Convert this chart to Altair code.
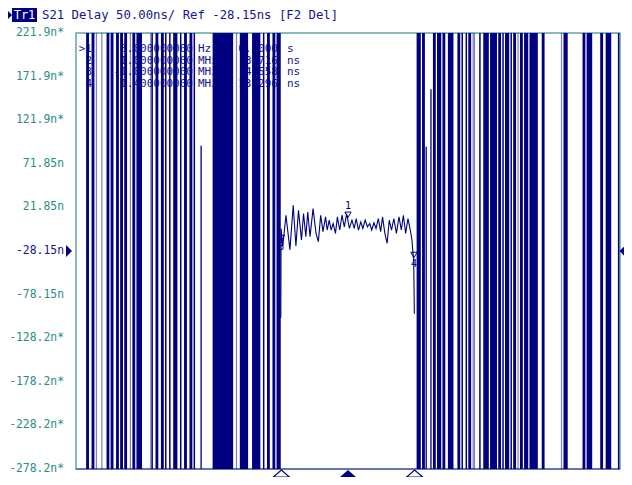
import altair as alt
import pandas as pd

NAVY = "#000080"
TXT = "#16168a"
TEAL = "#2b8c87"
GRID = "#8ad9d9"
FRAME = "#63a6a3"
FONT = "DejaVu Sans Mono"

Y_TOP = 221.85
Y_BOT = -278.15
N_LAST = 400
W, H = 544, 436

# ---- axis ticks ----
ytick_ns = [221.85, 171.85, 121.85, 71.85, 21.85, -28.15, -78.15, -128.15, -178.15, -228.15, -278.15]
ytick_label = ["221.9n*", "171.9n*", "121.9n*", "71.85n\u00a0", "21.85n\u00a0", "-28.15n",
               "-78.15n\u00a0", "-128.2n*", "-178.2n*", "-228.2n*", "-278.2n*"]
ref_ns = -28.15
xgrid_idx = [0, 40, 80, 120, 160, 200, 240, 280, 320, 360, 400]

# ---- wrapped (out-of-band) delay: runs of full-height strokes, by point index ----
wrap_start = [8, 12, 23, 26, 30, 33, 36, 42, 45, 56, 59, 63, 66, 69, 72, 77, 80, 84, 87, 101,
              121, 130, 138, 141, 145, 148,
              251, 255, 263, 266, 270, 274, 281, 284, 287, 289, 297, 300, 305, 311, 314, 316,
              320, 322, 327, 330, 334, 343, 359, 373, 376, 386, 390, 399]
wrap_end = [9, 13, 24, 27, 31, 34, 37, 43, 48, 56, 60, 64, 66, 69, 74, 77, 81, 85, 87, 115,
            126, 135, 138, 142, 146, 150,
            253, 256, 264, 268, 271, 277, 282, 284, 287, 290, 297, 303, 309, 312, 314, 318,
            320, 323, 328, 332, 339, 344, 361, 374, 379, 387, 393, 399]
light_idx = [15, 19, 40, 55, 118, 292, 293, 325, 357]

# partial strokes
partial_idx = [92, 257.5, 261]
partial_top = [92.6, 91.5, 157.3]
partial_bot = [-278.15, -278.15, -278.15]

# ---- in-band group delay (ns) ----
band_idx = [150.6, 150.8, 152.0, 154.4, 157.3, 159.7, 161.7, 163.6, 165.8, 167.3,
            169.0, 170.4, 172.1, 174.3, 176.5, 178.2, 179.9, 181.6, 183.5, 184.7,
            186.2, 187.6, 189.1, 190.8, 192.2, 193.9, 195.6, 197.3, 199.0, 201.0,
            202.9, 204.6, 206.0, 207.7, 209.4, 210.9, 212.6, 214.3, 216.0, 217.4,
            219.1, 220.6, 222.3, 224.0, 225.4, 227.1, 228.8, 230.3, 232.0, 233.7,
            235.6, 237.5, 239.2, 240.7, 242.4, 244.1, 245.8, 247.0, 247.7, 248.3, 248.8]
band_ns = [-105, -2.3, -23.0, 12.9, -26.8, 24.2, -22.3, 18.5, -15.5, 14.8,
           -11.7, 16.6, -11.7, 20.4, -7.9, -17.4, 12.9, -6.0, 11.0, -4.1,
           7.2, -4.1, 3.4, -7.9, 11.0, -4.1, 12.9, -0.4, 14.8, -2.3,
           7.2, -2.3, 9.1, -4.1, 5.3, -2.3, 7.2, -0.4, 3.4, -4.1,
           4.2, -2.3, 9.1, -6.0, 11.0, -7.9, -19.3, 7.2, -4.1, 9.1,
           -7.9, 11.0, -4.1, 12.9, -7.9, 9.1, -4.1, -15.5, -28.7, -40, -100]

# ---- markers ----
act_name = ["1"]
act_idx = [200]
act_ns = [4.2]
inact_name = ["3", "4"]
inact_idx = [151, 248.5]
inact_ns = [-13.2, -32.7]
tri_open_idx = [151, 249]
tri_active_idx = [200]

mk_label = [">1", "2", "3", "4"]
mk_freq = ["0.000000000", "1.000000000", "-1.000000000", "1.400000000"]
mk_funit = ["Hz", "MHz", "MHz", "MHz"]
mk_val = ["0.0000", "3.716", "4.558", "13.296"]
mk_vunit = ["s", "ns", "ns", "ns"]

header_tr = "Tr1"
header_txt = "S21 Delay 50.00ns/ Ref -28.15ns [F2 Del]"

# ---------------------------------------------------------------
xs = alt.Scale(domain=[0, N_LAST], nice=False, zero=False)
ys = alt.Scale(domain=[Y_BOT, Y_TOP], nice=False, zero=False)


def X(f):
    return alt.X(f, scale=xs, axis=None)


def Y(f):
    return alt.Y(f, scale=ys, axis=None)


grid_df = pd.DataFrame({"idx": [0, N_LAST], "ns": [Y_BOT, Y_BOT]})
grid = alt.Chart(grid_df).mark_line(color="#5c5cab", strokeWidth=1.5).encode(
    x=alt.X("idx:Q", scale=xs, axis=alt.Axis(values=xgrid_idx, grid=True, gridColor=GRID, gridWidth=1.5,
                                             labels=False, ticks=False, domain=False, title=None)),
    y=alt.Y("ns:Q", scale=ys, axis=alt.Axis(values=ytick_ns, grid=True, gridColor=GRID, gridWidth=1.5,
                                            labels=False, ticks=False, domain=False, title=None)),
)

one = pd.DataFrame({"k": [0]})

table_layers = []
for col, xpos, al in [(mk_label, 16, "right"), (mk_freq, 117, "right"), (mk_funit, 122, "left"),
                      (mk_val, 202, "right"), (mk_vunit, 211, "left")]:
    table_layers.append(
        alt.Chart(pd.DataFrame({"t": ["\n".join(col)]})).mark_text(
            font=FONT, fontSize=11, color=TXT, align=al, baseline="top", lineBreak="\n", lineHeight=11.5
        ).encode(x=alt.value(xpos), y=alt.value(10), text="t:N")
    )

run_df = pd.DataFrame({"x0": [s - 0.55 for s in wrap_start], "x1": [e + 0.55 for e in wrap_end],
                       "top": [Y_TOP] * len(wrap_start), "bot": [Y_BOT] * len(wrap_start)})
runs = alt.Chart(run_df).mark_rect(color=NAVY).encode(
    x=X("x0:Q"), x2="x1:Q", y=Y("top:Q"), y2="bot:Q")

light_df = pd.DataFrame({"x0": [s - 0.45 for s in light_idx], "x1": [s + 0.45 for s in light_idx],
                         "top": [Y_TOP] * len(light_idx), "bot": [Y_BOT] * len(light_idx)})
lights = alt.Chart(light_df).mark_rect(color=NAVY, opacity=0.5).encode(
    x=X("x0:Q"), x2="x1:Q", y=Y("top:Q"), y2="bot:Q")

part_df = pd.DataFrame({"idx": partial_idx, "top": partial_top, "bot": partial_bot})
partials = alt.Chart(part_df).mark_rule(color=NAVY, strokeWidth=1.3).encode(
    x=X("idx:Q"), y=Y("top:Q"), y2="bot:Q")

band_df = pd.DataFrame({"idx": band_idx, "ns": band_ns})
band = alt.Chart(band_df).mark_line(color=NAVY, strokeWidth=1.1).encode(x=X("idx:Q"), y=Y("ns:Q"))

act_df = pd.DataFrame({"idx": act_idx, "ns": act_ns, "name": act_name})
act_tri = alt.Chart(act_df).mark_point(shape="triangle-down", filled=False, color=NAVY, size=40,
                                       strokeWidth=1, yOffset=-8, opacity=1).encode(x=X("idx:Q"), y=Y("ns:Q"))
act_txt = alt.Chart(act_df).mark_text(font=FONT, fontSize=10, color=NAVY, dy=-17).encode(
    x=X("idx:Q"), y=Y("ns:Q"), text="name:N")

inact_df = pd.DataFrame({"idx": inact_idx, "ns": inact_ns, "name": inact_name})
inact_tri = alt.Chart(inact_df).mark_point(shape="triangle-down", filled=False, color=NAVY, size=40,
                                           strokeWidth=1, opacity=1).encode(x=X("idx:Q"), y=Y("ns:Q"))
inact_txt = alt.Chart(inact_df).mark_text(font=FONT, fontSize=10, color=NAVY, dy=9).encode(
    x=X("idx:Q"), y=Y("ns:Q"), text="name:N")

ylab_df = pd.DataFrame({"ns": ytick_ns, "lab": ytick_label})
ylabels = alt.Chart(ylab_df).mark_text(font=FONT, fontSize=11.4, align="right", baseline="middle").encode(
    x=alt.value(-12), y=Y("ns:Q"), text="lab:N",
    color=alt.condition("datum.ns == -28.15", alt.value(TXT), alt.value(TEAL)))

ref_df = pd.DataFrame({"ns": [ref_ns]})
ref_left = alt.Chart(ref_df).mark_point(shape="M-0.5,-1L0.5,0L-0.5,1Z", filled=True, size=144,
                                        color=NAVY, opacity=1).encode(x=alt.value(-7), y=Y("ns:Q"))
ref_right = alt.Chart(ref_df).mark_point(shape="M0.5,-1L-0.5,0L0.5,1Z", filled=True, size=100,
                                         color=NAVY, opacity=1).encode(x=alt.value(W + 2), y=Y("ns:Q"))

TRI = "M-1,0.44L1,0.44L0,-0.44Z"
tri_open = alt.Chart(pd.DataFrame({"idx": tri_open_idx})).mark_point(
    shape=TRI, filled=True, fill="white", stroke=NAVY, strokeWidth=1.2, size=256, opacity=1).encode(
    x=X("idx:Q"), y=alt.value(H + 4.5))
tri_act = alt.Chart(pd.DataFrame({"idx": tri_active_idx})).mark_point(
    shape=TRI, filled=True, color=NAVY, size=256, opacity=1).encode(
    x=X("idx:Q"), y=alt.value(H + 4.5))

hdr_arrow = alt.Chart(one).mark_point(shape="M-0.5,-1L0.5,0L-0.5,1Z", filled=True, size=110,
                                      color=NAVY, opacity=1).encode(x=alt.value(-66.5), y=alt.value(-18))
hdr_box = alt.Chart(one).mark_rect(color=NAVY).encode(
    x=alt.value(-64), x2=alt.value(-39), y=alt.value(-25), y2=alt.value(-11))
hdr_tr = alt.Chart(pd.DataFrame({"t": [header_tr]})).mark_text(
    font=FONT, fontSize=12, color="white", align="center", baseline="middle").encode(
    x=alt.value(-51.5), y=alt.value(-18), text="t:N")
hdr_txt = alt.Chart(pd.DataFrame({"t": [header_txt]})).mark_text(
    font=FONT, fontSize=12.3, color=TXT, align="left", baseline="middle").encode(
    x=alt.value(-34), y=alt.value(-18), text="t:N")

chart = alt.layer(
    grid, *table_layers, runs, lights, partials, band, act_tri, act_txt, inact_tri, inact_txt,
    ylabels, ref_left, ref_right, tri_open, tri_act, hdr_arrow, hdr_box, hdr_tr, hdr_txt
).properties(
    width=W, height=H,
    padding={"left": 68, "top": 25, "right": 4, "bottom": 8},
    autosize=alt.AutoSizeParams(type="none"),
    background="white",
).configure_view(stroke=FRAME, strokeWidth=1.5)

chart.save("out.html", embed_options={"renderer": "svg", "actions": False})
